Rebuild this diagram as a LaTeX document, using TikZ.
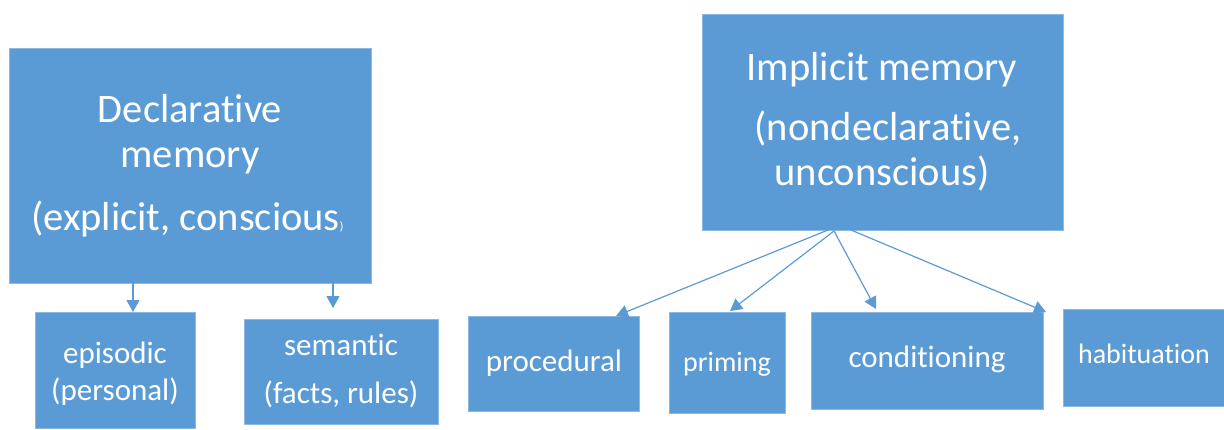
\documentclass[tikz,border=0pt]{standalone}
\usepackage{fontspec}
\setmainfont{Carlito}[Ligatures={NoCommon}]
\usetikzlibrary{arrows.meta}
\definecolor{boxblue}{HTML}{5B9BD5}
\definecolor{edgeblue}{HTML}{8DB8E2}
\tikzset{
  box/.style={rectangle, fill=boxblue, draw=edgeblue, line width=0.8pt, inner sep=0pt, anchor=north west},
  lbl/.style={text=white, inner sep=0pt, anchor=base},
  big/.style={lbl, font=\fontsize{40.5}{45}\selectfont},
  small/.style={lbl, font=\fontsize{31}{36}\selectfont},
  smaller/.style={lbl, font=\fontsize{28}{33}\selectfont},
  conn/.style={draw=boxblue, line width=1.2pt, -{Triangle[length=12pt,width=13pt]}}
}
\begin{document}
\begin{tikzpicture}[x=1pt,y=-1pt]
\useasboundingbox (0,0) rectangle (1224,429);
% boxes
\node[box, minimum width=362pt, minimum height=235pt] (decl) at (9,48) {};
\node[box, minimum width=361pt, minimum height=216pt] (impl) at (702,14) {};
\node[box, minimum width=160pt, minimum height=116pt] (epi) at (35,312) {};
\node[box, minimum width=194pt, minimum height=105pt] (sem) at (244,319) {};
\node[box, minimum width=171pt, minimum height=95pt] (proc) at (468,316) {};
\node[box, minimum width=116pt, minimum height=101pt] (prim) at (669,312) {};
\node[box, minimum width=232pt, minimum height=97pt] (cond) at (811,312) {};
\node[box, minimum width=161pt, minimum height=97pt] (habit) at (1063,309) {};
% labels
\node[big] (d1) at (190,122) {Declarative};
\node[big] (d2) at (190,167) {memory};
\node[big, anchor=base west] (d3) at (31,230) {(explicit, conscious\fontsize{12}{14}\selectfont)};
\node[big] (i1) at (882,80) {Implicit memory};
\node[big] (i2) at (888,140) {(nondeclarative,};
\node[big] (i3) at (882,185) {unconscious)};
\node[small] (e1) at (115,363) {episodic};
\node[small] (e2) at (115,400) {(personal)};
\node[small] (s1) at (341,355) {semantic};
\node[small] (s2) at (341,403) {(facts, rules)};
\node[small] (p1) at (554,371) {procedural};
\node[smaller] (pr1) at (727,371) {priming};
\node[small] (c1) at (927,367) {conditioning};
\node[smaller] (h1) at (1144,363) {habituation};
% connector end points
\coordinate (dA) at (133,283);
\coordinate (dB) at (333,283);
\coordinate (eT) at (133,312);
\coordinate (sT) at (333,308);
\coordinate (iA) at (828,230);
\coordinate (iB) at (834,231);
\coordinate (iC) at (851,230);
\coordinate (pT) at (616,316);
\coordinate (prT) at (730,311);
\coordinate (cT) at (876,309);
\coordinate (hT) at (1046,312);
% connectors
\draw[conn] (dA) -- (eT);
\draw[conn] (dB) -- (sT);
\draw[conn] (iA) -- (pT);
\draw[conn] (iB) -- (prT);
\draw[conn] (iB) -- (cT);
\draw[conn] (iC) -- (hT);
\end{tikzpicture}
\end{document}
